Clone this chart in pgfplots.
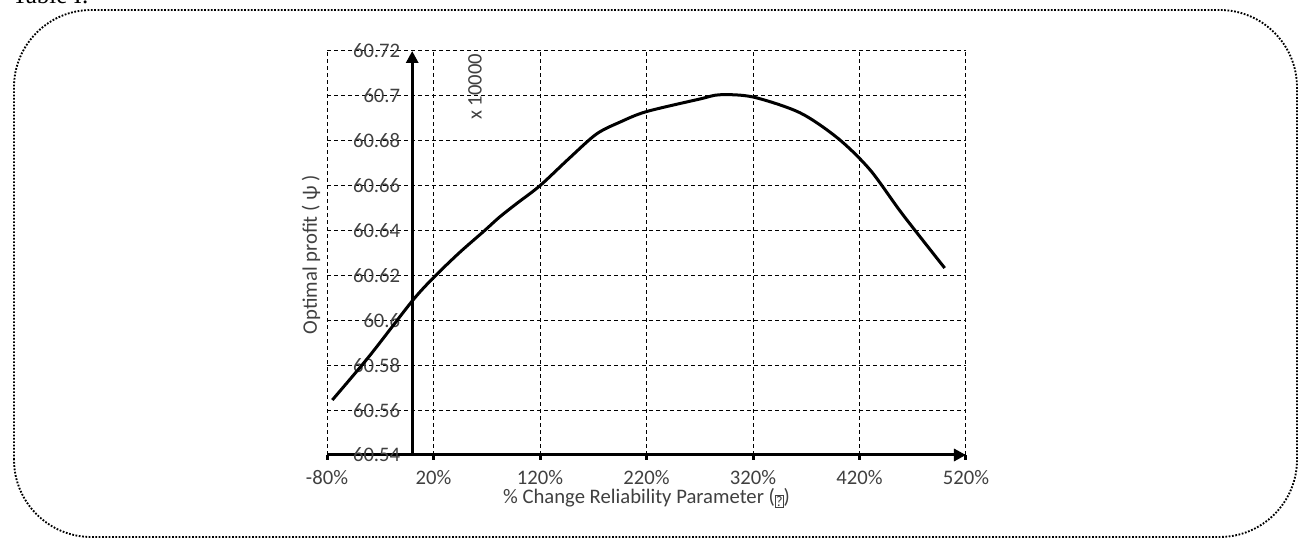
\documentclass[border=0pt]{standalone}
\usepackage{fontspec}
\setmainfont{Carlito}
\newfontfamily\timesfont{Liberation Serif}
\usepackage{pgfplots}
\pgfplotsset{compat=1.18}
\usetikzlibrary{arrows.meta}
\definecolor{txt}{RGB}{64,64,64}
\newcommand{\qbox}{\raisebox{-0.25ex}{\setlength{\fboxsep}{0.2pt}\setlength{\fboxrule}{0.5pt}\fbox{\fontsize{11}{12}\selectfont ?}}}
\begin{document}
\begin{tikzpicture}[x=0.75pt,y=0.75pt]
\useasboundingbox (0,0) rectangle (1307,541);
\draw[line width=1.4pt, dash pattern=on 1.3pt off 1.2pt, rounded corners=58pt] (14,4) rectangle (1297,531);
\node[anchor=base west, inner sep=0pt, font=\timesfont\fontsize{18.75}{20}\selectfont] at (12,537) {Table I.};
\begin{axis}[
  at={(245.25pt,64.5pt)}, anchor=south west,
  width=479.25pt, height=303pt, scale only axis,
  xmin=-80, xmax=520, ymin=60.54, ymax=60.72,
  axis x line=bottom, axis y line=center,
  hide obscured x ticks=false, hide obscured y ticks=false,
  axis line style={line width=2.25pt, -{Triangle[length=9pt,width=9pt]}},
  xtick={-80,20,120,220,320,420,520},
  xticklabels={-80\%,20\%,120\%,220\%,320\%,420\%,520\%},
  ytick={60.54,60.56,60.58,60.6,60.62,60.64,60.66,60.68,60.7,60.72},
  yticklabels={60.54,60.56,60.58,60.6,60.62,60.64,60.66,60.68,60.7,60.72},
  grid=major,
  grid style={black, line width=0.75pt, dash pattern=on 3pt off 2.25pt},
  tick label style={font=\fontsize{15.5}{18}\selectfont, text=txt},
  xtick style={line width=2.25pt, black},
  ytick style={draw=none},
  tick align=outside,
  major tick length=3.5pt,
  xticklabel style={anchor=base, yshift=-18.5pt},
  yticklabel style={xshift=-2pt},
  every axis x label/.style={at={(axis description cs:0.5,-0.121)}, anchor=base, font=\fontsize{15.5}{18}\selectfont, text=txt},
  every axis y label/.style={at={(axis description cs:-0.025,0.496)}, rotate=90, anchor=center, font=\fontsize{15.5}{18}\selectfont, text=txt},
  xlabel={\% Change Reliability Parameter (\qbox)},
  ylabel={Optimal profit ( ψ )},
  clip=false,
]
\addplot[black, line width=2.25pt, smooth] coordinates {
(-75,60.5645) (-40,60.5842) (0,60.6086) (20,60.619) (44,60.630) (68,60.640)
(82,60.646) (98,60.652) (120,60.660) (147,60.672) (173,60.683) (196,60.6885)
(220,60.693) (270,60.6986) (289,60.7005) (320,60.6995) (364,60.6925)
(400,60.681) (430,60.667) (460,60.6475) (500,60.6233)
};
\node[rotate=90, font=\fontsize{15.5}{18}\selectfont, text=txt] at (axis cs:59,60.704) {x 10000};
\end{axis}
\end{tikzpicture}
\end{document}
